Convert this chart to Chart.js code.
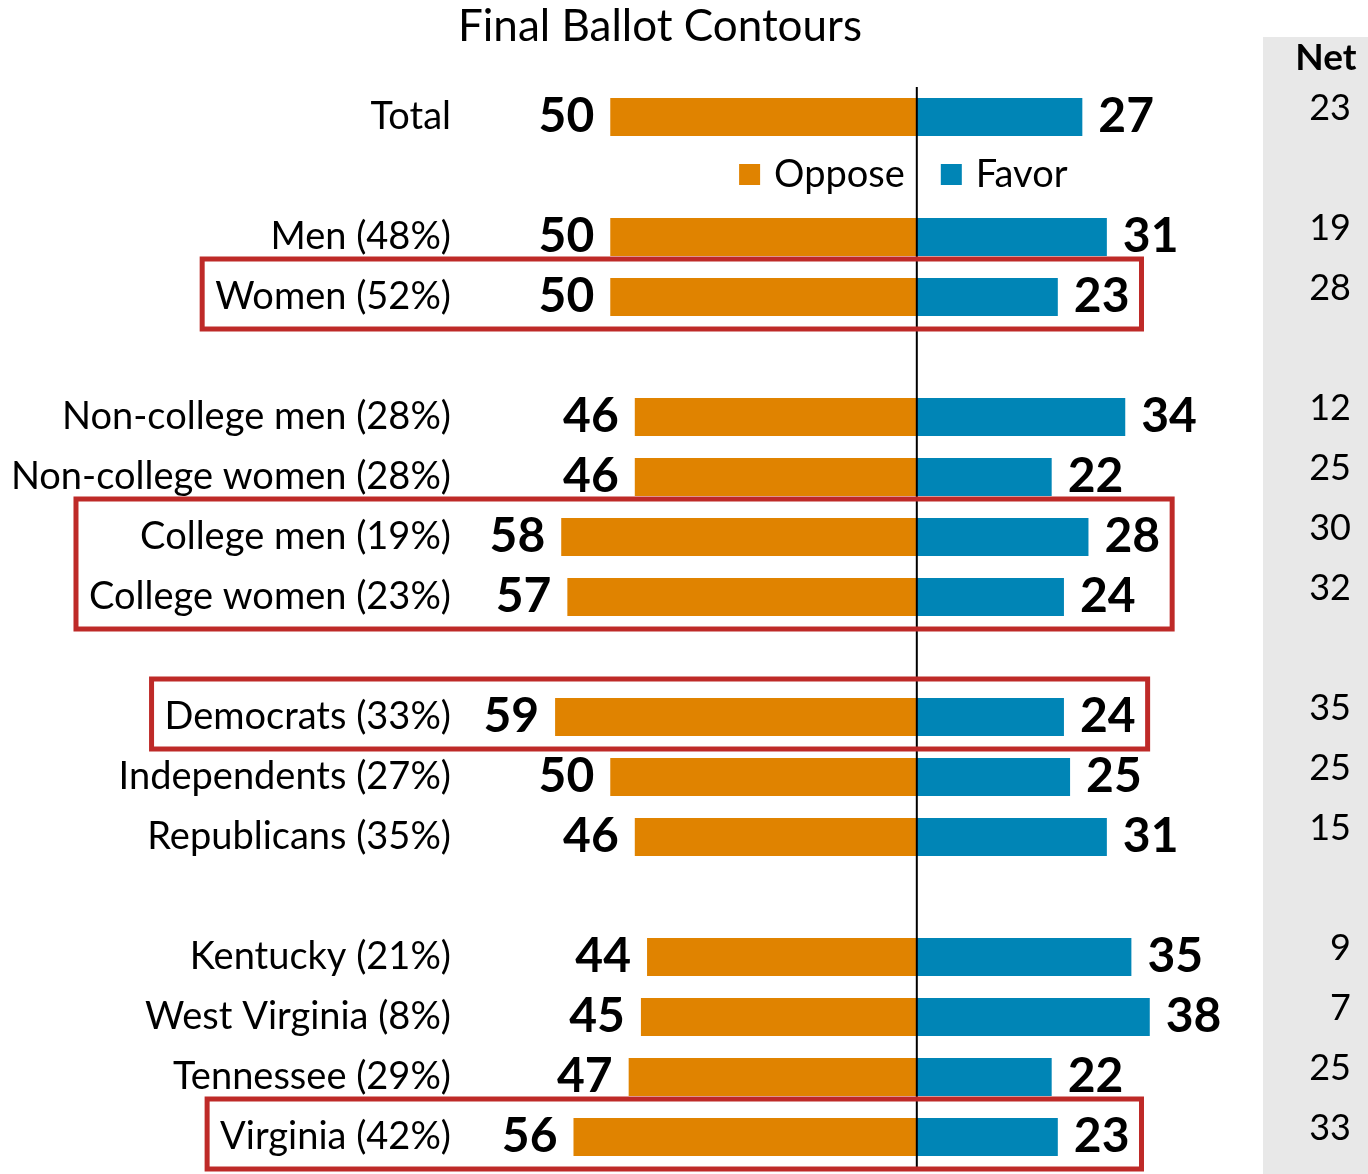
<!DOCTYPE html>
<html lang="en">
  <head>
    <meta charset="UTF-8" />
    <title>Final Ballot Contours</title>
    <style>
      body {
        margin: 0;
        padding: 0;
        background: #fff;
        overflow: hidden;
      }
      .chart-box {
        width: 1368px;
        height: 1174px;
      }
    </style>
  </head>
  <body>
    <div class="chart-box">
      <canvas id="ballotChart" width="1368" height="1174"></canvas>
    </div>

    <script src="https://cdn.jsdelivr.net/npm/chart.js"></script>
    <script>
      // rows of the chart ('' = spacer row)
      const groups = [
        'Total', '',
        'Men (48%)', 'Women (52%)', '',
        'Non-college men (28%)', 'Non-college women (28%)', 'College men (19%)', 'College women (23%)', '',
        'Democrats (33%)', 'Independents (27%)', 'Republicans (35%)', '',
        'Kentucky (21%)', 'West Virginia (8%)', 'Tennessee (29%)', 'Virginia (42%)'
      ];
      const oppose = [50, null, 50, 50, null, 46, 46, 58, 57, null, 59, 50, 46, null, 44, 45, 47, 56];
      const favor  = [27, null, 31, 23, null, 34, 22, 28, 24, null, 24, 25, 31, null, 35, 38, 22, 23];
      const net    = [23, null, 19, 28, null, 12, 25, 30, 32, null, 35, 25, 15, null, 9, 7, 25, 33];

      // rows framed in red
      const highlights = [
        ['Women (52%)'],
        ['College men (19%)', 'College women (23%)'],
        ['Democrats (33%)'],
        ['Virginia (42%)']
      ];

      const FONT = 'Lato, "Open Sans", sans-serif';
      const ORANGE = '#E08300';
      const BLUE = '#0085B6';

      const ballotPlugin = {
        id: 'ballot',
        beforeDraw(chart) {
          const ctx = chart.ctx;
          // net column background
          ctx.save();
          ctx.fillStyle = '#E8E8E8';
          ctx.fillRect(1263, 37, chart.width - 1263, chart.height - 37);
          ctx.restore();
        },
        afterDatasetsDraw(chart) {
          const ctx = chart.ctx;
          const x = chart.scales.x;
          const y = chart.scales.y;
          const x0 = x.getPixelForValue(0);
          ctx.save();

          // title
          ctx.fillStyle = '#000';
          ctx.font = '44px ' + FONT;
          ctx.textAlign = 'center';
          ctx.textBaseline = 'middle';
          ctx.fillText('Final Ballot Contours', 660, 27);

          // center line
          ctx.strokeStyle = '#000';
          ctx.lineWidth = 2;
          ctx.beginPath();
          ctx.moveTo(x0, chart.chartArea.top);
          ctx.lineTo(x0, 1167);
          ctx.stroke();

          // value labels at the bar ends
          ctx.font = 'bold 48px ' + FONT;
          ctx.textBaseline = 'middle';
          chart.data.datasets.forEach((ds, di) => {
            const meta = chart.getDatasetMeta(di);
            meta.data.forEach((bar, i) => {
              const v = di === 0 ? oppose[i] : favor[i];
              if (v == null) return;
              ctx.textAlign = di === 0 ? 'right' : 'left';
              ctx.fillText(String(v), bar.x + (di === 0 ? -16 : 16), bar.y);
            });
          });

          // legend in the spacer row under Total
          const ly = y.getPixelForValue(1) - 2;
          ctx.font = '38px ' + FONT;
          ctx.textAlign = 'right';
          ctx.fillText(chart.data.datasets[0].label, x0 - 12, ly);
          const ow = ctx.measureText(chart.data.datasets[0].label).width;
          ctx.fillStyle = ORANGE;
          ctx.fillRect(x0 - 12 - ow - 14 - 21, ly - 11, 21, 21);
          ctx.fillStyle = BLUE;
          ctx.fillRect(x0 + 24, ly - 11, 21, 21);
          ctx.fillStyle = '#000';
          ctx.textAlign = 'left';
          ctx.fillText(chart.data.datasets[1].label, x0 + 24 + 21 + 14, ly);

          // net column
          ctx.font = 'bold 37px ' + FONT;
          ctx.textAlign = 'center';
          ctx.fillText('Net', 1326, 58);
          ctx.font = '36px ' + FONT;
          ctx.textAlign = 'right';
          net.forEach((v, i) => {
            if (v == null) return;
            ctx.fillText(String(v), 1351, y.getPixelForValue(i) - 9);
          });

          // red frames
          ctx.strokeStyle = '#BE2A28';
          ctx.lineWidth = 5;
          highlights.forEach(rows => {
            const idx = rows.map(r => groups.indexOf(r));
            let left = Infinity, right = -Infinity;
            ctx.font = '38px ' + FONT;
            idx.forEach(i => {
              const w = ctx.measureText(groups[i]).width;
              left = Math.min(left, chart.chartArea.left - 6 - w - 13);
            });
            ctx.font = 'bold 48px ' + FONT;
            idx.forEach(i => {
              const w = ctx.measureText(String(favor[i])).width;
              right = Math.max(right, x.getPixelForValue(favor[i]) + 16 + w + 12);
            });
            const top = y.getPixelForValue(idx[0]) - 38;
            const bottom = y.getPixelForValue(idx[idx.length - 1]) + 32;
            ctx.strokeRect(left, top, right - left, bottom - top);
          });

          ctx.restore();
        }
      };

      const ctx = document.getElementById('ballotChart').getContext('2d');
      const ballotChart = new Chart(ctx, {
        type: 'bar',
        data: {
          labels: groups,
          datasets: [
            {
              label: 'Oppose',
              data: oppose.map(v => (v == null ? null : -v)),
              backgroundColor: ORANGE,
              borderWidth: 0
            },
            {
              label: 'Favor',
              data: favor,
              backgroundColor: BLUE,
              borderWidth: 0
            }
          ]
        },
        options: {
          indexAxis: 'y',
          responsive: false,
          animation: false,
          barPercentage: 0.63,
          categoryPercentage: 1,
          layout: {
            padding: { top: 87, bottom: 7, left: 0, right: 114 }
          },
          plugins: {
            legend: { display: false },
            title: { display: false },
            tooltip: { enabled: false }
          },
          scales: {
            x: {
              stacked: true,
              min: -75,
              max: 55,
              display: false
            },
            y: {
              stacked: true,
              grid: { display: false, drawTicks: false, tickLength: 0 },
              border: { display: false },
              ticks: {
                autoSkip: false,
                padding: 6,
                color: '#000',
                font: { family: FONT, size: 38 }
              },
              afterFit(scale) {
                scale.width = 457;
                scale.paddingTop = 0;
                scale.paddingBottom = 0;
              }
            }
          }
        },
        plugins: [ballotPlugin]
      });
    </script>
  </body>
</html>
